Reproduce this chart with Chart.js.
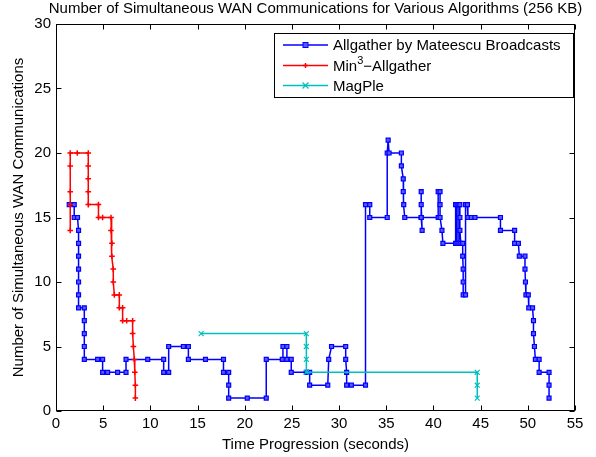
<!DOCTYPE html>
<html><head><meta charset="utf-8">
<script src="https://cdn.jsdelivr.net/npm/chart.js@4.4.1/dist/chart.umd.min.js"></script>
<style>html,body{margin:0;padding:0;background:#fff}#wrap{width:596px;height:457px;position:relative}</style>
</head><body><div id="wrap"><canvas id="c" width="596" height="457"></canvas></div>
<script>
const titleText = "Number of Simultaneous WAN Communications for Various Algorithms (256 KB)";
const xLabel = "Time Progression (seconds)";
const yLabel = "Number of Simultaneous WAN Communications";
const seriesNames = ["Allgather by Mateescu Broadcasts", "Min3\u2212Allgather", "MagPle"];
const xTicks = [0,5,10,15,20,25,30,35,40,45,50,55];
const yTicks = [0,5,10,15,20,25,30];

const blueX = [1.40,1.93,1.93,2.28,2.39,2.39,2.39,2.39,2.39,2.39,2.39,3.00,3.00,3.00,3.00,3.00,4.41,4.94,4.94,5.47,6.53,7.42,7.42,9.72,11.41,11.41,11.94,11.94,13.50,14.03,14.03,15.84,17.75,17.75,18.30,18.30,18.30,20.27,22.28,22.28,23.98,24.05,24.47,24.47,24.93,24.93,26.53,26.88,26.88,28.80,28.90,29.20,30.70,30.70,30.80,30.80,31.30,32.80,32.80,33.25,33.25,35.10,35.10,35.20,35.30,36.60,36.60,36.80,36.80,36.85,36.96,38.70,38.70,38.70,38.80,38.70,40.50,40.50,40.70,40.70,40.70,40.90,41.00,42.35,42.35,42.50,42.50,42.70,42.70,42.80,42.80,42.80,42.90,43.10,43.10,43.15,43.15,43.15,43.40,43.40,43.60,43.65,44.00,44.40,47.10,47.10,48.60,48.60,49.00,49.10,49.70,49.70,49.75,49.80,50.05,50.10,50.50,50.60,50.60,50.70,50.80,51.20,51.20,52.25,52.25,52.25];
const blueY = [16,16,15,15,14,13,12,11,10,9,8,8,7,6,5,4,4,4,3,3,3,3,4,4,4,3,3,5,5,5,4,4,4,3,3,2,1,1,1,4,4,5,5,4,4,3,3,3,2,2,4,5,5,4,3,2,2,2,16,16,15,15,20,21,20,20,19,18,17,16,15,15,17,16,14,15,15,17,17,16,15,14,13,13,16,16,13,13,16,16,15,14,13,13,12,11,10,9,9,16,16,15,15,15,15,14,14,13,13,12,12,11,10,9,9,8,8,7,6,5,4,4,3,3,2,1];

const redX = [1.51,1.51,1.51,1.51,1.51,2.25,3.42,3.42,3.42,3.42,3.42,4.50,4.50,4.94,5.83,5.83,5.93,5.93,6.07,6.07,6.18,6.71,6.71,7.06,7.06,7.49,8.12,8.12,8.20,8.30,8.35,8.41,8.41];
const redY = [14,16,17,19,20,20,20,19,18,17,16,16,15,15,15,14,13,12,11,10,9,9,8,8,7,7,7,6,5,4,3,2,1];

const cyanX = [15.38,26.53,26.53,26.53,26.53,44.64,44.64,44.64];
const cyanY = [6,6,5,4,3,3,2,1];

const FONT = "'Liberation Sans', Arial, Helvetica, sans-serif";
const BLUE = '#0000ff', RED = '#ff0000', CYAN = '#00bfbf';
const BLUE_FILL = '#5a5aff';

function pts(xs, ys){ return xs.map((v,i)=>({x:v, y:ys[i]})); }

function drawMarker(ctx, kind, x, y, color){
  ctx.save();
  ctx.strokeStyle = color; ctx.fillStyle = color;
  ctx.lineWidth = 1;
  if (kind === 'rect'){
    ctx.fillStyle = BLUE_FILL;
    ctx.fillRect(x-2.5, y-2.5, 5, 5);
    ctx.strokeRect(x-2.5, y-2.5, 5, 5);
  } else if (kind === 'cross'){
    ctx.lineWidth = 1.5;
    ctx.beginPath(); ctx.moveTo(x-2.5,y); ctx.lineTo(x+2.5,y); ctx.moveTo(x,y-2.5); ctx.lineTo(x,y+2.5); ctx.stroke();
  } else {
    ctx.lineWidth = 1.2;
    ctx.beginPath(); ctx.moveTo(x-3,y-3); ctx.lineTo(x+3,y+3); ctx.moveTo(x-3,y+3); ctx.lineTo(x+3,y-3); ctx.stroke();
  }
  ctx.restore();
}

const frame = {
  id: 'frame',
  afterDraw(chart){
    const {ctx, chartArea: a, scales: {x, y}} = chart;
    ctx.save();
    ctx.strokeStyle = '#000'; ctx.lineWidth = 1;
    const L = Math.round(a.left)+0.5, R = Math.round(a.right)-0.5, T = Math.round(a.top)+0.5, B = Math.round(a.bottom)-0.5;
    ctx.strokeRect(L, T, R-L, B-T);
    ctx.beginPath();
    xTicks.forEach(v => {
      const p = Math.round(x.getPixelForValue(v))+0.5;
      ctx.moveTo(p, B); ctx.lineTo(p, B-5);
      ctx.moveTo(p, T); ctx.lineTo(p, T+5);
    });
    yTicks.forEach(v => {
      const p = Math.round(y.getPixelForValue(v))+0.5;
      ctx.moveTo(L, p); ctx.lineTo(L+5, p);
      ctx.moveTo(R, p); ctx.lineTo(R-5, p);
    });
    ctx.stroke();

    ctx.fillStyle = '#000';
    ctx.font = '15px ' + FONT;
    ctx.textAlign = 'center'; ctx.textBaseline = 'alphabetic';
    const cx = (a.left + a.right)/2;
    ctx.fillText(titleText, cx, 13);
    ctx.fillText(xLabel, cx, 449);
    ctx.save();
    ctx.translate(23, (a.top + a.bottom)/2);
    ctx.rotate(-Math.PI/2);
    ctx.fillText(yLabel, 0, 0);
    ctx.restore();

    // legend
    const lx = 274.5, ly = 33.5, lw = 299, lh = 64;
    ctx.fillStyle = '#fff';
    ctx.fillRect(lx, ly, lw, lh);
    ctx.strokeStyle = '#000'; ctx.lineWidth = 1;
    ctx.strokeRect(lx, ly, lw, lh);
    const rows = [45, 65.5, 85.5];
    const cols = [BLUE, RED, CYAN];
    const kinds = ['rect', 'cross', 'x'];
    rows.forEach((ry, i) => {
      ctx.strokeStyle = cols[i]; ctx.lineWidth = 1.5;
      ctx.beginPath(); ctx.moveTo(283, ry); ctx.lineTo(328, ry); ctx.stroke();
      drawMarker(ctx, kinds[i], 305.5, ry, cols[i]);
      ctx.fillStyle = '#000';
      ctx.textAlign = 'left'; ctx.textBaseline = 'middle';
      ctx.font = '15px ' + FONT;
      if (i === 1){
        let tx = 333;
        ctx.fillText('Min', tx, ry+1); tx += ctx.measureText('Min').width;
        ctx.font = '11px ' + FONT;
        ctx.fillText('3', tx, ry-5); tx += ctx.measureText('3').width;
        ctx.font = '15px ' + FONT;
        ctx.fillText('\u2212Allgather', tx, ry+1);
      } else {
        ctx.fillText(seriesNames[i], 333, ry+1);
      }
    });
    ctx.restore();
  }
};

new Chart(document.getElementById('c'), {
  type: 'scatter',
  data: {
    datasets: [
      { label: seriesNames[0], data: pts(blueX, blueY), showLine: true, borderColor: BLUE, borderWidth: 1.5,
        pointStyle: 'rect', pointRadius: 2.8, pointBorderWidth: 1.2, pointBorderColor: BLUE, pointBackgroundColor: BLUE_FILL, order: 3 },
      { label: seriesNames[1], data: pts(redX, redY), showLine: true, borderColor: RED, borderWidth: 1.5,
        pointStyle: 'cross', pointRadius: 2.8, pointBorderWidth: 1.5, pointBorderColor: RED, pointBackgroundColor: RED, order: 2 },
      { label: seriesNames[2], data: pts(cyanX, cyanY), showLine: true, borderColor: CYAN, borderWidth: 1.5,
        pointStyle: 'crossRot', pointRadius: 3.5, pointBorderWidth: 1.2, pointBorderColor: CYAN, pointBackgroundColor: CYAN, order: 1 }
    ]
  },
  options: {
    responsive: false,
    animation: false,
    devicePixelRatio: 1,
    layout: { padding: { top: 24, right: 21, left: 0, bottom: 0 } },
    plugins: { legend: { display: false }, tooltip: { enabled: false }, title: { display: false } },
    elements: { line: { tension: 0 } },
    scales: {
      x: {
        type: 'linear', min: 0, max: 55,
        afterBuildTicks: s => { s.ticks = xTicks.map(v => ({value: v})); },
        afterFit: s => { s.height = 46; },
        grid: { display: false, drawTicks: false },
        border: { display: false },
        ticks: { color: '#000', font: { family: FONT, size: 15 }, padding: 4, maxRotation: 0, autoSkip: false }
      },
      y: {
        type: 'linear', min: 0, max: 30,
        afterBuildTicks: s => { s.ticks = yTicks.map(v => ({value: v})); },
        afterFit: s => { s.width = 56; },
        grid: { display: false, drawTicks: false },
        border: { display: false },
        ticks: { color: '#000', font: { family: FONT, size: 15 }, padding: 5, autoSkip: false }
      }
    }
  },
  plugins: [frame]
});
</script></body></html>
